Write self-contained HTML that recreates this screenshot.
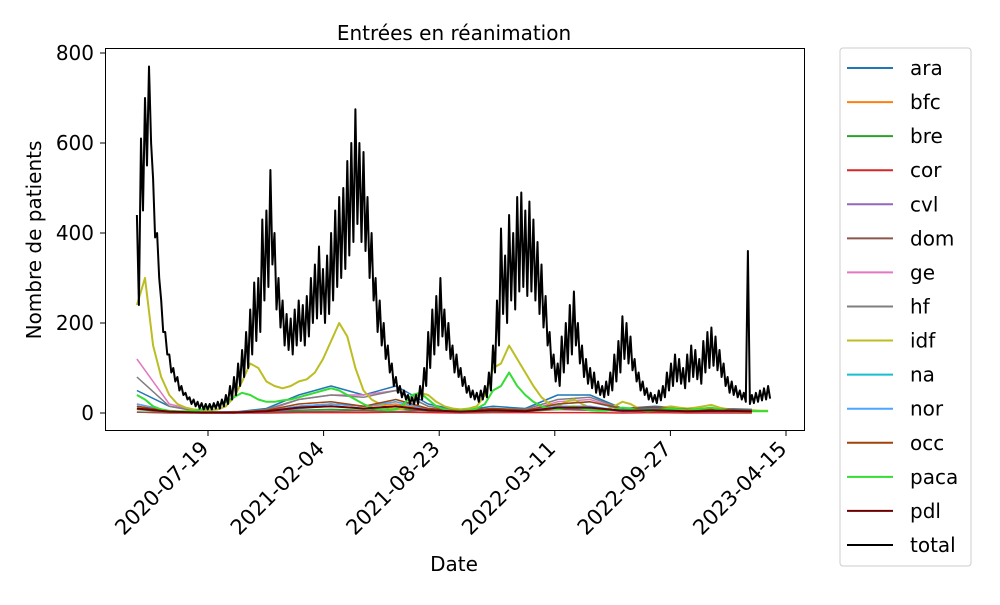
<!DOCTYPE html>
<html><head><meta charset="utf-8"><style>
body{margin:0;background:#fff;}
svg text{font-family:"DejaVu Sans","Liberation Sans",sans-serif;fill:#000;}
</style></head><body>
<svg id="chart" width="1000" height="600" xmlns="http://www.w3.org/2000/svg">
<rect width="1000" height="600" fill="#fff"/>
<text x="454" y="40" font-size="20" text-anchor="middle">Entrées en réanimation</text>
<rect x="105.5" y="48.5" width="699" height="382" fill="none" stroke="#000" stroke-width="1"/>
<g id="series"></g>
<g id="axes"></g>
<text x="454" y="571" font-size="20" text-anchor="middle">Date</text>
<text transform="translate(41,240) rotate(-90)" font-size="20" text-anchor="middle">Nombre de patients</text>
<g id="legend"></g>
</svg>
<script>
// ---- data ----
const xTickLabels = ["2020-07-19","2021-02-04","2021-08-23","2022-03-11","2022-09-27","2023-04-15"];
const xTickDays = [0,200,400,600,800,1000];
const yTickValues = [0,200,400,600,800];
const startDay = -123; // 2020-03-18 relative to 2020-07-19
const totalPeak = [440,610,700,770,520,400,250,180,130,100,
80,60,45,35,30,25,22,20,20,22,
25,30,40,60,80,110,140,180,230,290,
300,430,450,540,400,300,250,220,210,230,
250,240,260,300,330,370,320,350,400,450,
480,500,560,600,675,600,580,480,400,300,
250,200,150,110,80,60,50,40,35,40,
60,100,180,230,260,300,230,200,150,130,
100,80,60,50,45,50,60,90,150,250,
410,350,440,400,480,490,450,470,430,380,
330,260,180,130,110,170,200,240,270,200,
150,120,100,90,70,60,70,90,130,160,
215,200,170,120,90,70,55,45,40,50,
60,90,110,130,120,100,130,150,140,120,
160,180,190,170,140,110,80,70,60,50,
45,360,40,45,50,55,60];
const totalTrough = [240,450,550,600,390,300,180,130,90,70,
50,40,30,20,15,10,8,8,8,10,
10,15,20,30,40,60,80,100,130,160,
180,250,280,330,230,190,150,140,130,150,
160,150,170,200,210,220,200,220,250,280,
300,320,350,380,420,380,360,300,250,180,
150,120,90,60,45,35,30,20,20,20,
30,60,100,130,150,170,140,120,90,80,
60,45,35,30,25,30,35,50,90,150,
220,200,250,230,270,280,260,270,250,220,
190,150,100,70,60,90,110,130,150,110,
80,65,55,45,40,35,40,50,70,90,
120,110,95,70,50,40,30,25,22,28,
35,50,60,70,65,55,70,80,75,65,
90,100,105,95,80,60,45,40,35,30,
25,20,22,25,28,30,32];
const idfVals = [240,300,150,80,40,20,12,8,6,6,
8,15,35,70,110,100,70,60,55,60,
70,75,90,120,160,200,170,100,50,30,
20,12,8,10,30,45,40,25,15,10,
8,10,15,40,100,110,150,120,90,60,
35,20,15,25,30,20,12,10,8,15,
25,20,10,6,8,12,15,12,10,12,
15,18,12,8,6,5,6,5,5];
const pacaVals = [40,30,15,8,5,4,4,5,8,12,
18,25,35,45,40,30,25,25,28,30,
35,40,45,50,55,50,40,30,20,12,
8,6,8,20,40,45,30,15,8,5,
5,6,10,20,50,60,90,60,40,25,
15,10,8,12,15,10,6,5,5,8,
12,10,6,4,5,8,10,8,6,8,
10,12,8,5,4,4,4,4,4];
const ara = [50,15,3,2,10,40,60,40,60,20,5,15,10,40,40,10,15,10,10,8];
const bfc = [20,5,1,1,3,15,20,15,20,8,2,6,3,10,12,4,6,3,4,3];
const bre = [8,2,1,1,2,6,8,6,10,4,2,5,3,8,10,4,6,3,4,3];
const cor = [2,0,0,0,0,1,1,1,2,1,0,1,1,1,1,0,1,0,0,0];
const cvl = [15,3,1,1,2,10,15,10,15,5,2,4,3,10,10,3,5,3,3,3];
const dom = [2,1,1,3,2,3,4,5,3,6,3,2,5,8,6,5,4,3,4,3];
const ge = [120,20,2,1,5,30,40,40,50,15,4,10,5,25,30,8,10,5,6,5];
const hf = [80,15,2,1,8,30,40,35,50,15,4,10,8,30,35,10,12,6,8,6];
const na = [10,3,1,1,4,15,20,15,25,10,4,10,5,20,25,8,10,6,8,6];
const nor = [20,4,1,1,4,15,20,15,25,8,3,6,5,15,15,5,6,4,5,4];
const occ = [15,4,1,1,6,20,25,15,30,10,5,10,6,20,25,10,12,8,8,6];
const pdl = [10,3,1,1,4,12,15,10,15,6,3,6,4,12,12,5,6,4,5,4];

// ---- scales ----
const NS="http://www.w3.org/2000/svg";
function xS(day){return 208+day*0.578;}
function yS(v){return 413-v*0.45;}
function mk(tag,attrs,parent){const e=document.createElementNS(NS,tag);for(const k in attrs)e.setAttribute(k,attrs[k]);parent.appendChild(e);return e;}
const sg=document.getElementById('series');
function drawLine(name,color,pts,w){
  const p=mk('path',{d:'M'+pts.map(q=>q[0].toFixed(1)+','+q[1].toFixed(1)).join('L'),fill:'none',stroke:color,'stroke-width':w,'stroke-linejoin':'round'},sg);
  
  
}
function stepSeries(arr,weeks){return arr.map((v,i)=>[xS(startDay+i*weeks*7),yS(v)]);}
const regions=[["ara","#1f77b4",ara],["bfc","#ff7f0e",bfc],["bre","#2ca02c",bre],["cor","#d62728",cor],["cvl","#9467bd",cvl],["dom","#8c564b",dom],["ge","#e377c2",ge],["hf","#7f7f7f",hf]];
regions.forEach(r=>drawLine(r[0],r[1],stepSeries(r[2],8),1.5));
drawLine("idf","#bcbd22",stepSeries(idfVals,2),2);
drawLine("na","#17becf",stepSeries(na,8),1.5);
drawLine("nor","#4da6ff",stepSeries(nor,8),1.5);
drawLine("occ","#a0420a",stepSeries(occ,8),1.5);
drawLine("paca","#33dd33",stepSeries(pacaVals,2),2);
drawLine("pdl","#6b0000",stepSeries(pdl,8),2);
const tp=[];
for(let i=0;i<totalPeak.length;i++){
  tp.push([xS(startDay+i*7),yS(totalPeak[i])]);
  tp.push([xS(startDay+i*7+3.5),yS(totalTrough[i])]);
}
drawLine("total","#000",tp,2);

// ---- axes ----
const ax=document.getElementById('axes');
yTickValues.forEach(v=>{
  const t=mk('line',{x1:100,x2:105,y1:yS(v),y2:yS(v),stroke:'#000'},ax);
  
  
  const l=mk('text',{x:94,y:yS(v)+7,'font-size':20,'text-anchor':'end'},ax);
  l.textContent=v;
  
  
});
xTickLabels.forEach((s,i)=>{
  const x=xS(xTickDays[i]);
  const t=mk('line',{x1:x,x2:x,y1:431,y2:436,stroke:'#000'},ax);
  
  
  const l=mk('text',{transform:`translate(${x+2},${450}) rotate(-45)`,'font-size':21,'text-anchor':'end'},ax);
  l.textContent=s;
  
  
});

// ---- legend ----
const lg=document.getElementById('legend');
const box=mk('rect',{x:840,y:48,width:131,height:518,rx:3,fill:'#fff',stroke:'#ccc'},lg);


const legendItems=[["ara","#1f77b4"],["bfc","#ff7f0e"],["bre","#2ca02c"],["cor","#d62728"],["cvl","#9467bd"],["dom","#8c564b"],["ge","#e377c2"],["hf","#7f7f7f"],["idf","#bcbd22"],["na","#17becf"],["nor","#4da6ff"],["occ","#a0420a"],["paca","#33dd33"],["pdl","#6b0000"],["total","#000"]];
legendItems.forEach((it,i)=>{
  const y=68+i*34.07;
  const g=mk('g',{},lg);
  
  
  mk('line',{x1:847,x2:893,y1:y,y2:y,stroke:it[1],'stroke-width':2},g);
  const t=mk('text',{x:910,y:y+7,'font-size':20},g);
  t.textContent=it[0];
});
</script>
</body></html>
